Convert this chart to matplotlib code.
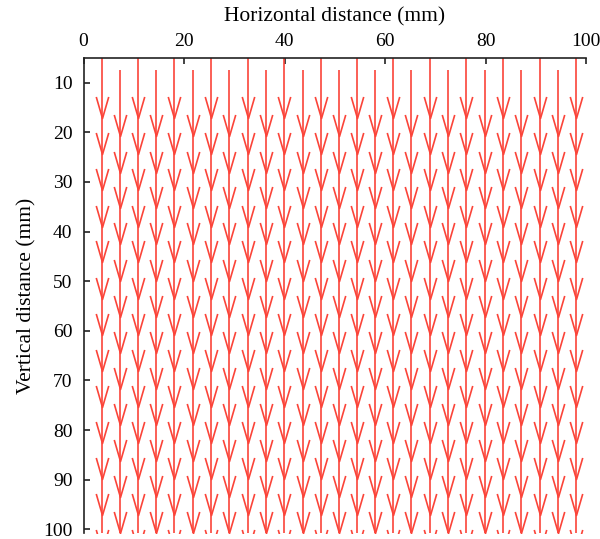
import matplotlib
matplotlib.use("Agg")
import matplotlib.pyplot as plt
from matplotlib.path import Path

plt.rcParams['font.family'] = ['Liberation Serif', 'DejaVu Serif']

# flow lines (x in mm); long lines start at the top, short ones a bit lower
long_x = [3.6, 10.9, 18.1, 25.4, 32.7, 39.9, 47.2, 54.4, 61.6, 68.9, 76.2, 83.5, 90.8, 98.0]
short_x = [7.3, 14.5, 21.8, 29.0, 36.3, 43.6, 50.8, 58.0, 65.2, 72.5, 79.8, 87.1, 94.4]
long_top = 5.1
short_top = 7.4
line_end = 101.0

# arrow tip positions (vertical distance, mm)
long_tips = [17.2, 24.4, 31.7, 39.0, 46.2, 53.5, 60.8, 68.1, 75.3, 82.6, 89.9, 97.2, 104.4]
short_tips = [20.8, 28.1, 35.3, 42.6, 49.9, 57.2, 64.4, 71.7, 79.0, 86.3, 93.5, 100.8]

xticks = [0, 20, 40, 60, 80, 100]
yticks = [10, 20, 30, 40, 50, 60, 70, 80, 90, 100]

red = '#fb4439'

# open V arrowhead, tip at the origin
vee = Path([(-0.29, 1.0), (0.0, 0.0), (0.29, 1.0)],
           [Path.MOVETO, Path.LINETO, Path.LINETO])

fig = plt.figure(figsize=(6, 5.39), dpi=100)
ax = fig.add_axes([0.1392, 0.0111, 0.8375, 0.8807])

ax.vlines(long_x, long_top, line_end, color=red, lw=1.2)
ax.vlines(short_x, short_top, line_end, color=red, lw=1.2)

for x in long_x:
    ax.plot([x] * len(long_tips), long_tips, ls='none', marker=vee, ms=31,
            mfc='none', mec=red, mew=1.2)
for x in short_x:
    ax.plot([x] * len(short_tips), short_tips, ls='none', marker=vee, ms=31,
            mfc='none', mec=red, mew=1.2)

ax.set_xlim(0, 100)
ax.set_ylim(100.75, 5.08)
ax.set_xticks(xticks)
ax.set_yticks(yticks)

ax.xaxis.tick_top()
ax.xaxis.set_label_position('top')
ax.spines['right'].set_visible(False)
ax.spines['bottom'].set_visible(False)
for s in ['top', 'left']:
    ax.spines[s].set_linewidth(1.2)
    ax.spines[s].set_color('#222222')

ax.tick_params(axis='both', direction='in', length=4, width=1.2, labelsize=14,
               color='#222222')
ax.tick_params(axis='x', pad=6)
ax.tick_params(axis='y', pad=8)

ax.set_xlabel('Horizontal distance (mm)', fontsize=15.5, labelpad=8)
ax.set_ylabel('Vertical distance (mm)', fontsize=15.5, labelpad=5)

fig.savefig('out.png', dpi=100)
